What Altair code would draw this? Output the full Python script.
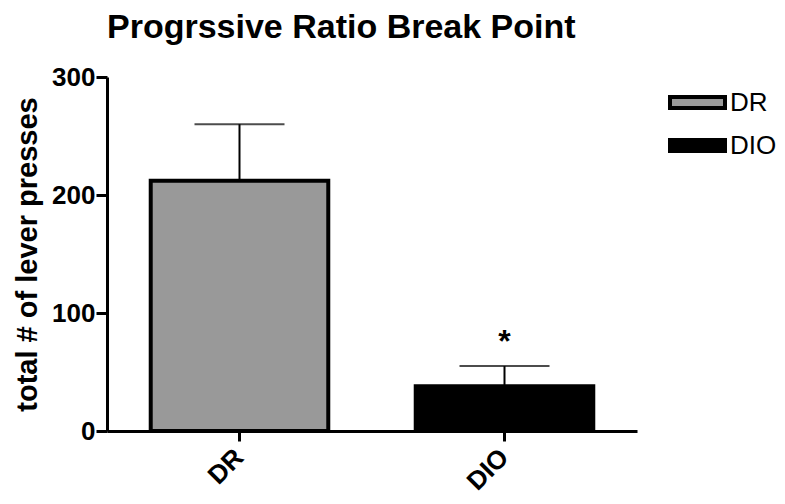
import altair as alt
import pandas as pd

groups = ["DR", "DIO"]
means = [212, 38]
errors = [48, 17]
colors = ["#999999", "#000000"]
sig = ["", "*"]

df = pd.DataFrame({
    "group": groups,
    "mean": means,
    "upper": [m + e for m, e in zip(means, errors)],
    "sig": sig,
})

FONT = "Liberation Sans"

x = alt.X("group:N", sort=groups,
          scale=alt.Scale(paddingInner=0.33, paddingOuter=0.165),
          axis=alt.Axis(title=None, labelAngle=-45, labelAlign="right", labelBaseline="middle",
                        labelFontSize=26, labelFontWeight="bold", labelFont=FONT, labelColor="black",
                        domainWidth=3, domainColor="black", tickWidth=3, tickColor="black",
                        tickSize=10, labelPadding=12))
y = alt.Y("mean:Q", scale=alt.Scale(domain=[0, 300], nice=False),
          axis=alt.Axis(title="total # of lever presses", values=[0, 100, 200, 300],
                        grid=False, labelFontSize=26, labelFontWeight="bold", labelFont=FONT,
                        labelColor="black", domainWidth=3, domainColor="black", tickWidth=3,
                        tickColor="black", tickSize=11, labelPadding=1,
                        titleFontSize=29, titleFont=FONT, titleFontWeight="bold",
                        titleColor="black", titlePadding=9))

bars = alt.Chart(df).mark_bar(stroke="black", strokeWidth=4).encode(
    x=x, y=y,
    fill=alt.Fill("group:N", sort=groups,
                  scale=alt.Scale(domain=groups, range=colors),
                  legend=alt.Legend(title=None, orient="none", legendX=561, legendY=-4,
                                    symbolType="M-1,-0.2H1V0.2H-1Z", symbolSize=3025,
                                    symbolStrokeColor="black", symbolStrokeWidth=4,
                                    labelFontSize=26, labelFont=FONT, labelColor="black",
                                    rowPadding=-8, labelOffset=3)),
)

rule = alt.Chart(df).mark_rule(color="black", strokeWidth=2).encode(
    x=alt.X("group:N", sort=groups), y="mean:Q", y2="upper:Q")
caps = alt.Chart(df).mark_tick(color="black", size=90, thickness=2).encode(
    x=alt.X("group:N", sort=groups), y="upper:Q")
star = alt.Chart(df).mark_text(fontSize=32, fontWeight="bold", font=FONT, dy=-24,
                               color="black").encode(
    x=alt.X("group:N", sort=groups), y="upper:Q", text="sig:N")

chart = alt.layer(rule, bars, caps, star).properties(
    width=530, height=354,
    title=alt.TitleParams("Progrssive Ratio Break Point", anchor="start", frame="group",
                          fontSize=34, font=FONT, fontWeight="bold", color="black", offset=19),
    padding={"left": 99, "top": 69, "right": 140, "bottom": 65},
    autosize="none",
).configure_view(stroke=None).configure_axis(labelFlush=False)

chart.save("out.html", embed_options={"renderer": "svg", "actions": False})
